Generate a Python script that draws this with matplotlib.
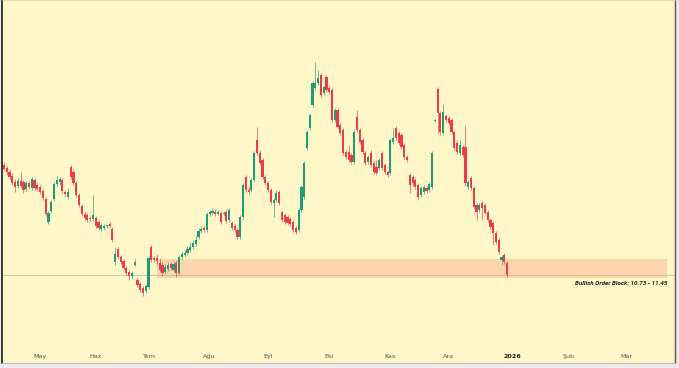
import matplotlib
matplotlib.use("Agg")
import matplotlib.pyplot as plt
from matplotlib.patches import Rectangle

# daily candles, May 2025 -> end of Dec 2025 (one entry per trading bar)
opens = [15.01, 14.90, 14.74, 14.59, 14.37, 14.21, 14.40, 14.37, 14.10, 14.33,
         14.14, 14.44, 14.25, 14.18, 14.02, 13.72, 12.85, 13.27, 13.72, 14.29,
         14.37, 14.44, 13.99, 13.80, 14.93, 14.74, 14.33, 13.87, 13.46, 13.15,
         13.11, 13.00, 12.97, 13.00, 12.85, 12.59, 12.63, 12.70, 12.78, 12.59,
         11.33, 11.83, 11.52, 11.37, 11.11, 10.95, 10.80, 11.22, 10.65, 10.50,
         10.35, 10.23, 10.38, 11.90, 11.49, 11.49, 11.30, 11.22, 10.95, 11.07,
         11.26, 11.03, 11.30, 10.92, 11.52, 11.60, 11.68, 11.79, 11.90, 12.02,
         12.28, 12.51, 12.63, 12.55, 13.15, 13.19, 13.23, 13.15, 13.19, 13.15,
         13.23, 12.93, 12.82, 12.70, 12.55, 12.28, 13.04, 14.55, 14.06, 14.06,
         14.44, 15.96, 15.46, 15.20, 14.55, 14.33, 14.06, 13.57, 13.68, 13.99,
         13.23, 13.11, 13.04, 12.97, 12.85, 12.63, 12.55, 13.31, 13.80, 15.65,
         16.41, 17.28, 17.93, 18.12, 18.42, 17.74, 18.34, 17.93, 17.85, 16.71,
         17.09, 16.53, 16.34, 15.50, 15.50, 15.39, 15.12, 16.83, 16.34, 15.96,
         15.46, 15.12, 15.46, 15.09, 14.93, 14.90, 15.46, 15.01, 14.74, 14.71,
         15.88, 16.41, 16.22, 16.15, 15.77, 15.31, 14.63, 14.55, 14.44, 14.25,
         13.87, 13.99, 14.14, 14.06, 14.18, 16.68, 17.89, 16.98, 16.22, 16.87,
         16.79, 16.71, 16.26, 15.84, 15.46, 15.69, 15.69, 14.18, 14.52, 14.14,
         13.49, 13.31, 13.57, 13.49, 13.23, 12.93, 12.82, 12.44, 12.17, 11.41,
         11.60, 11.30]
highs = [15.12, 14.97, 14.86, 14.71, 14.48, 14.52, 14.74, 14.44, 14.40, 14.40,
         14.55, 14.52, 14.37, 14.25, 14.10, 13.80, 13.27, 13.68, 14.37, 14.59,
         14.55, 14.52, 14.06, 14.14, 15.01, 14.82, 14.40, 13.95, 13.53, 13.23,
         13.19, 13.08, 13.87, 13.08, 12.93, 12.82, 12.78, 12.78, 12.85, 12.66,
         11.90, 11.90, 11.60, 11.45, 11.18, 11.03, 10.99, 11.45, 10.72, 10.57,
         10.42, 10.50, 11.56, 11.98, 11.56, 11.64, 11.49, 11.33, 11.26, 11.33,
         11.33, 11.37, 11.41, 11.60, 11.71, 11.79, 11.94, 12.09, 12.17, 12.32,
         12.63, 12.70, 12.70, 13.23, 13.31, 13.38, 13.34, 13.31, 13.27, 13.27,
         13.34, 13.38, 12.89, 12.78, 12.63, 13.11, 14.33, 14.63, 14.18, 14.52,
         15.54, 16.45, 15.58, 15.27, 14.63, 14.40, 14.14, 13.76, 14.06, 14.06,
         13.31, 13.19, 13.11, 13.04, 12.93, 12.70, 13.38, 14.25, 15.16, 16.34,
         16.98, 18.19, 18.91, 18.61, 18.49, 18.04, 18.42, 18.00, 17.93, 17.17,
         17.17, 16.60, 16.41, 15.58, 15.77, 15.46, 16.34, 17.09, 16.41, 16.03,
         15.54, 15.39, 15.58, 15.16, 15.20, 15.27, 15.54, 15.09, 14.82, 16.03,
         16.41, 16.49, 16.30, 16.22, 15.84, 15.39, 14.71, 14.63, 14.52, 14.33,
         14.21, 14.25, 14.21, 14.37, 15.54, 16.75, 17.96, 17.06, 17.32, 16.94,
         16.87, 16.79, 16.34, 15.92, 15.96, 15.77, 16.53, 14.44, 14.59, 14.21,
         13.57, 13.57, 13.64, 13.57, 13.31, 13.00, 12.89, 12.51, 12.24, 11.60,
         11.68, 11.37]
lows = [14.78, 14.63, 14.48, 14.25, 13.99, 14.14, 14.14, 13.95, 14.02, 14.10,
        14.06, 14.06, 14.02, 13.91, 13.68, 13.08, 12.78, 13.19, 13.64, 14.21,
        14.25, 13.95, 13.84, 13.72, 14.48, 14.25, 13.80, 13.42, 13.08, 12.93,
        12.85, 12.89, 12.89, 12.63, 12.55, 12.51, 12.55, 12.63, 12.63, 12.09,
        11.22, 11.45, 11.26, 11.03, 10.84, 10.65, 10.69, 11.18, 10.38, 10.19,
        10.05, 10.16, 10.31, 11.33, 11.33, 11.26, 10.95, 10.80, 10.88, 10.99,
        11.03, 10.95, 10.76, 10.84, 11.45, 11.52, 11.60, 11.71, 11.83, 11.94,
        12.21, 12.44, 12.47, 12.47, 13.08, 13.11, 13.08, 13.11, 12.78, 13.08,
        12.82, 12.85, 12.55, 12.47, 12.21, 12.21, 12.97, 13.99, 13.91, 13.99,
        14.37, 15.39, 15.01, 14.48, 14.25, 13.99, 13.53, 13.04, 13.61, 13.49,
        12.85, 12.78, 12.74, 12.70, 12.47, 12.40, 12.47, 13.23, 13.72, 15.58,
        16.34, 17.21, 17.85, 18.04, 17.59, 17.66, 17.77, 17.70, 16.64, 16.64,
        16.37, 16.15, 15.39, 15.24, 15.12, 15.05, 15.05, 16.26, 15.80, 15.43,
        15.01, 15.05, 14.93, 14.67, 14.63, 14.82, 14.82, 14.67, 14.55, 14.63,
        15.80, 15.96, 15.77, 15.62, 15.24, 15.12, 13.95, 14.21, 14.10, 13.72,
        13.80, 13.91, 13.95, 13.99, 14.10, 16.64, 16.22, 16.15, 16.15, 16.64,
        16.53, 16.18, 15.58, 15.43, 15.39, 15.31, 14.21, 14.10, 14.06, 13.34,
        12.93, 13.23, 12.93, 13.11, 12.85, 12.59, 11.98, 12.02, 11.64, 11.22,
        11.26, 10.76]
closes = [14.86, 14.74, 14.55, 14.33, 14.18, 14.40, 14.21, 14.06, 14.33, 14.18,
          14.48, 14.14, 14.10, 13.99, 13.76, 13.15, 13.19, 13.61, 14.29, 14.44,
          14.48, 14.02, 13.91, 13.99, 14.55, 14.33, 13.87, 13.49, 13.15, 13.00,
          12.93, 12.97, 13.11, 12.70, 12.63, 12.74, 12.70, 12.74, 12.70, 12.17,
          11.64, 11.52, 11.33, 11.11, 10.92, 10.80, 10.92, 11.33, 10.46, 10.27,
          10.16, 10.42, 11.49, 11.41, 11.41, 11.37, 11.03, 10.92, 11.14, 11.22,
          11.11, 11.26, 10.92, 11.52, 11.64, 11.68, 11.83, 11.90, 12.05, 12.17,
          12.51, 12.59, 12.55, 13.15, 13.23, 13.27, 13.15, 13.23, 12.85, 13.19,
          12.89, 13.31, 12.63, 12.55, 12.28, 13.04, 14.25, 14.06, 13.99, 14.44,
          15.46, 15.46, 15.09, 14.55, 14.33, 14.06, 13.61, 13.68, 13.95, 13.57,
          12.93, 12.85, 12.82, 12.78, 12.55, 12.47, 13.31, 14.18, 15.09, 16.26,
          16.90, 18.12, 18.12, 18.31, 17.66, 17.96, 17.85, 17.77, 16.71, 17.09,
          16.45, 16.22, 15.46, 15.31, 15.20, 15.12, 16.26, 16.34, 15.88, 15.50,
          15.09, 15.31, 15.01, 14.74, 14.71, 15.20, 14.90, 14.74, 14.63, 15.96,
          16.03, 16.03, 15.84, 15.69, 15.31, 15.20, 14.25, 14.33, 14.18, 13.80,
          14.14, 14.18, 14.02, 14.29, 15.46, 16.71, 16.98, 16.26, 17.02, 16.71,
          16.60, 16.26, 15.65, 15.50, 15.77, 15.39, 14.33, 14.37, 14.14, 13.42,
          13.23, 13.49, 13.38, 13.19, 12.93, 12.66, 12.44, 12.09, 11.71, 11.52,
          11.33, 10.84]

month_labels = ["May", "Haz", "Tem", "Ağu", "Eyl", "Eki", "Kas", "Ara", "2026", "Şub", "Mar"]
month_pos = [13, 33, 52, 74, 95, 117, 139, 160, 183, 203, 224]

ob_low, ob_high = 10.73, 11.45
ob_start, ob_end = 55, 238.5
last_price = closes[-1]

bg = "#fff7c8"
up_col = "#1d9c78"
down_col = "#ec3b4d"

fig = plt.figure(figsize=(6.79, 3.68), dpi=100, facecolor="#ececec")

# yellow panel with a dark frame on the sides
panel = fig.add_axes([2 / 679, 5 / 368, 673 / 679, 363 / 368])
panel.set_facecolor(bg)
panel.set_xticks([])
panel.set_yticks([])
panel.spines["left"].set_color("#2b2b2b")
panel.spines["left"].set_linewidth(1.3)
panel.spines["right"].set_color("#555555")
panel.spines["right"].set_linewidth(1.0)
panel.spines["top"].set_color("#d8d2b0")
panel.spines["top"].set_linewidth(0.5)
panel.spines["bottom"].set_color("#bdbdbd")
panel.spines["bottom"].set_linewidth(0.8)

ax = fig.add_axes([3 / 679, 28 / 368, 672 / 679, 340 / 368])
ax.set_facecolor("none")
for s in ax.spines.values():
    s.set_visible(False)

idx = list(range(len(closes)))
cols = [up_col if c >= o else down_col for o, c in zip(opens, closes)]

# order block zone + last price line
ax.add_patch(Rectangle((ob_start, ob_low), ob_end - ob_start, ob_high - ob_low,
                       facecolor="#f89a78", alpha=0.36, edgecolor="none", zorder=1))
ax.axhline(last_price, color="#cdbb98", lw=0.6, zorder=1.5)

ax.vlines(idx, lows, highs, colors=cols, lw=0.6, alpha=0.75, zorder=2)
bottoms = [min(o, c) for o, c in zip(opens, closes)]
heights = [max(abs(c - o), 0.03) for o, c in zip(opens, closes)]
ax.bar(idx, heights, bottom=bottoms, width=0.78, color=cols, linewidth=0, zorder=3)

ax.text(ob_end, 10.52, "Bullish Order Block: 10.73 - 11.45", ha="right", va="center",
        fontsize=4.5, fontweight="bold", fontstyle="italic", color="#222222",
        family="Roboto")

ax.set_xlim(-0.36, 241.4)
ax.set_ylim(8.38, 21.26)
ax.set_yticks([])
ax.set_xticks(month_pos)
ax.set_xticklabels(month_labels, fontsize=4.6, color="#555555", va="baseline")
ax.tick_params(axis="x", length=0, pad=13)
for lab in ax.get_xticklabels():
    if lab.get_text() == "2026":
        lab.set_fontweight("bold")
        lab.set_color("#222222")

fig.savefig("out.png", dpi=100, facecolor=fig.get_facecolor())
